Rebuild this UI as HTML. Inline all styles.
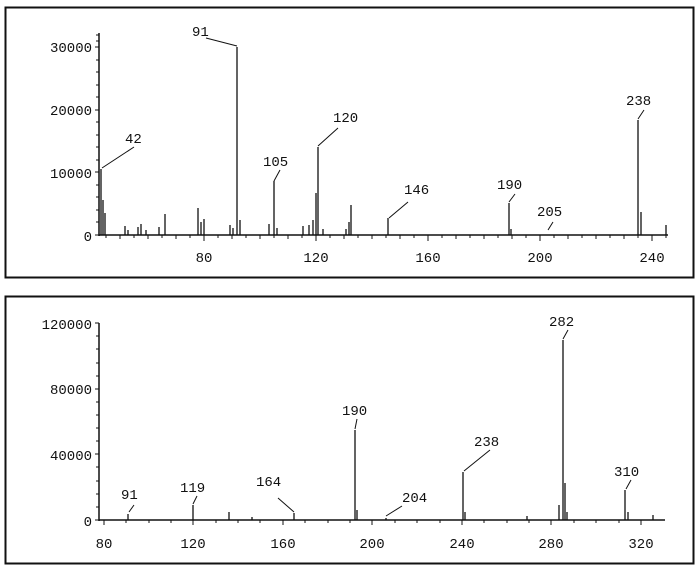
<!DOCTYPE html>
<html><head><style>body{margin:0;background:#fff}svg{display:block}text{font-family:"Liberation Mono",monospace;font-size:14px;fill:#111}</style></head>
<body>
<svg width="700" height="572" viewBox="0 0 700 572" xmlns="http://www.w3.org/2000/svg" stroke="#111" fill="none">
<rect x="5.5" y="7.5" width="688" height="270" stroke-width="2"/>
<rect x="5.5" y="296.5" width="688" height="267" stroke-width="2"/>
<!-- TOP axes -->
<line x1="99" y1="33" x2="99" y2="236" stroke-width="1.5"/>
<line x1="99" y1="235" x2="668" y2="235" stroke-width="1.5"/>
<g stroke-width="1">
<path d="M95 235h4M95 172h4M95 110h4M95 47h4M96 222h3M96 210h3M96 197h3M96 185h3M96 160h3M96 147h3M96 135h3M96 122h3M96 97h3M96 85h3M96 72h3M96 60h3M96 41h3M96 35h3"/>
<path d="M120 235v4M148 235v4M176 235v4M204 235v6M232 235v4M260 235v4M288 235v4M316 235v6M344 235v4M372 235v4M400 235v4M428 235v6M456 235v4M484 235v4M512 235v4M540 235v6M568 235v4M596 235v4M624 235v4M652 235v6M106 235v3M134 235v3M162 235v3M190 235v3M218 235v3M246 235v3M274 235v3M302 235v3M330 235v3M358 235v3M386 235v3M414 235v3M442 235v3M470 235v3M498 235v3M526 235v3M554 235v3M582 235v3M610 235v3M638 235v3M666 235v3"/>
</g>
<g stroke-width="1.3">
<path d="M101 235V169M103 235V200M105 235V213M125 235V226M128 235V230M138 235V227M141 235V224M146 235V230M159 235V227M165 235V214M198 235V208M201 235V222M204 235V219M230 235V225M233 235V228M237 235V47M240 235V220M269 235V224M274 235V181M277 235V228M303 235V226M309 235V225M313 235V220M316 235V193M318 235V147M323 235V229M346 235V229M349 235V222M351 235V205M388 235V218M509 235V203M511 235V229M638 235V120M641 235V212M666 235V225"/>
</g>
<path d="M102 168L134 147M237 46L206 38M274 181L280 170M318 146L338 128M389 218L408 202M509 202L515 194M548 230L553 222M638 119L644 110" stroke-width="1"/>
<g stroke="none">
<text x="92" y="52" text-anchor="end">30000</text><text x="92" y="115" text-anchor="end">20000</text><text x="92" y="178" text-anchor="end">10000</text><text x="92" y="241" text-anchor="end">0</text>
<text x="204" y="262" text-anchor="middle">80</text><text x="316" y="262" text-anchor="middle">120</text><text x="428" y="262" text-anchor="middle">160</text><text x="540" y="262" text-anchor="middle">200</text><text x="652" y="262" text-anchor="middle">240</text>
<text x="125" y="143">42</text><text x="192" y="36">91</text><text x="263" y="166">105</text><text x="333" y="122">120</text><text x="404" y="194">146</text><text x="497" y="189">190</text><text x="537" y="216">205</text><text x="626" y="105">238</text>
</g>
<!-- BOTTOM axes -->
<line x1="99" y1="323" x2="99" y2="521" stroke-width="1.5"/>
<line x1="99" y1="520" x2="665" y2="520" stroke-width="1.5"/>
<g stroke-width="1">
<path d="M95 520h4M95 454h4M95 389h4M95 323h4M96 507h3M96 494h3M96 481h3M96 467h3M96 441h3M96 428h3M96 415h3M96 402h3M96 376h3M96 363h3M96 349h3M96 336h3"/>
<path d="M104 520v5M193 520v5M283 520v5M372 520v5M462 520v5M551 520v5M641 520v5M126 520v3M149 520v3M171 520v3M216 520v3M238 520v3M260 520v3M305 520v3M328 520v3M350 520v3M395 520v3M417 520v3M440 520v3M484 520v3M507 520v3M529 520v3M574 520v3M596 520v3M619 520v3"/>
</g>
<g stroke-width="1.3">
<path d="M128 520V514M193 520V505M229 520V512M252 520V517M294 520V513M355 520V430M357 520V510M386 520V518M463 520V472M465 520V512M527 520V516M559 520V505M563 520V340M565 520V483M567 520V512M625 520V490M628 520V512M653 520V515"/>
</g>
<path d="M129 512L134 505M193 504L197 496M294 512L278 498M355 429L357 419M386 516L402 506M464 471L490 450M563 339L568 330M626 489L631 480" stroke-width="1"/>
<g stroke="none">
<text x="92" y="329" text-anchor="end">120000</text><text x="92" y="394" text-anchor="end">80000</text><text x="92" y="460" text-anchor="end">40000</text><text x="92" y="526" text-anchor="end">0</text>
<text x="104" y="548" text-anchor="middle">80</text><text x="193" y="548" text-anchor="middle">120</text><text x="283" y="548" text-anchor="middle">160</text><text x="372" y="548" text-anchor="middle">200</text><text x="462" y="548" text-anchor="middle">240</text><text x="551" y="548" text-anchor="middle">280</text><text x="641" y="548" text-anchor="middle">320</text>
<text x="121" y="499">91</text><text x="180" y="492">119</text><text x="256" y="486">164</text><text x="342" y="415">190</text><text x="402" y="502">204</text><text x="474" y="446">238</text><text x="549" y="326">282</text><text x="614" y="476">310</text>
</g>
</svg>
</body></html>
